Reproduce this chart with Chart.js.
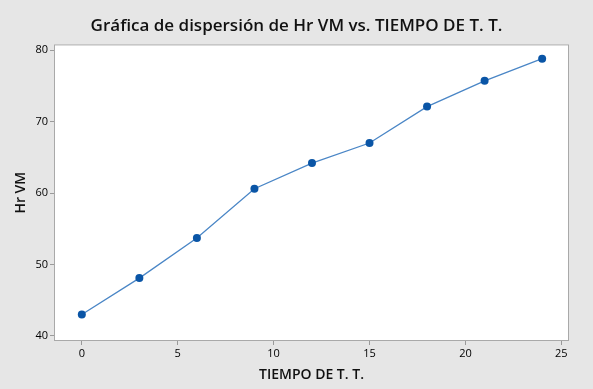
<!DOCTYPE html>
<html>
<head>
<meta charset="utf-8">
<script src="https://cdn.jsdelivr.net/npm/chart.js@4"></script>
<style>
  html, body { margin: 0; padding: 0; background: #e6e6e6; }
  #wrap { width: 593px; height: 389px; }
</style>
</head>
<body>
<div id="wrap"><canvas id="grafica"></canvas></div>
<script>
// datos
var tiempo = [0, 3, 6, 9, 12, 15, 18, 21, 24];
var hrVM = [43.0, 48.1, 53.7, 60.6, 64.2, 67.0, 72.1, 75.7, 78.8];
var xTicks = [0, 5, 10, 15, 20, 25];
var yTicks = [40, 50, 60, 70, 80];

var puntos = tiempo.map(function (t, i) { return { x: t, y: hrVM[i] }; });

// fondo blanco y marco del area de trazado
var marco = {
    id: 'marco',
    beforeDatasetsDraw: function (chart) {
        var a = chart.chartArea, ctx = chart.ctx;
        ctx.save();
        ctx.fillStyle = '#ffffff';
        ctx.fillRect(a.left, a.top, a.right - a.left, a.bottom - a.top);
        ctx.strokeStyle = '#a9a9a9';
        ctx.lineWidth = 1;
        ctx.strokeRect(a.left + 0.5, a.top + 0.5, a.right - a.left - 1, a.bottom - a.top - 1);
        ctx.restore();
    }
};

var ctx = document.getElementById('grafica').getContext('2d');
var chart = new Chart(ctx, {
    type: 'scatter',
    data: {
        datasets: [{
            data: puntos,
            showLine: true,
            borderColor: '#4a86c6',
            borderWidth: 1.3,
            backgroundColor: '#0a55a6',
            pointBackgroundColor: '#0a55a6',
            pointBorderColor: '#0a55a6',
            pointRadius: 4,
            pointBorderWidth: 0
        }]
    },
    options: {
        responsive: true,
        maintainAspectRatio: false,
        animation: false,
        layout: { padding: 0 },
        plugins: {
            legend: { display: false },
            tooltip: { enabled: false },
            title: {
                display: true,
                text: 'Gráfica de dispersión de Hr VM vs. TIEMPO DE T. T.',
                color: '#111',
                font: { family: 'Open Sans', size: 17, weight: '600' },
                padding: { top: 16, bottom: 8 }
            }
        },
        scales: {
            x: {
                type: 'linear',
                min: -1.45,
                max: 25.4,
                afterBuildTicks: function (axis) {
                    axis.ticks = xTicks.map(function (v) { return { value: v }; });
                },
                afterFit: function (axis) { axis.height = 48; },
                grid: { drawOnChartArea: false, tickLength: 4, color: '#9a9a9a' },
                border: { display: false },
                ticks: {
                    color: '#000',
                    padding: 2,
                    maxRotation: 0,
                    font: { family: 'Open Sans', size: 11 }
                },
                title: {
                    display: true,
                    text: 'TIEMPO DE T. T.',
                    color: '#111',
                    font: { family: 'Open Sans', size: 14, weight: '600' },
                    padding: { top: 0, bottom: 6 }
                }
            },
            y: {
                type: 'linear',
                min: 39.3,
                max: 80.8,
                afterBuildTicks: function (axis) {
                    axis.ticks = yTicks.map(function (v) { return { value: v }; });
                },
                afterFit: function (axis) { axis.width = 54; },
                grid: { drawOnChartArea: false, tickLength: 4, color: '#9a9a9a' },
                border: { display: false },
                ticks: {
                    color: '#000',
                    padding: 2,
                    font: { family: 'Open Sans', size: 11 }
                },
                title: {
                    display: true,
                    text: 'Hr VM',
                    color: '#111',
                    font: { family: 'Open Sans', size: 14, weight: '600' },
                    padding: { top: 13, bottom: 13 }
                }
            },
            // eje vacio a la derecha solo para dejar el margen gris
            margen: {
                type: 'linear',
                position: 'right',
                grid: { display: false },
                border: { display: false },
                ticks: { display: false },
                afterFit: function (axis) { axis.width = 24; }
            }
        }
    },
    plugins: [marco]
});
</script>
</body>
</html>
